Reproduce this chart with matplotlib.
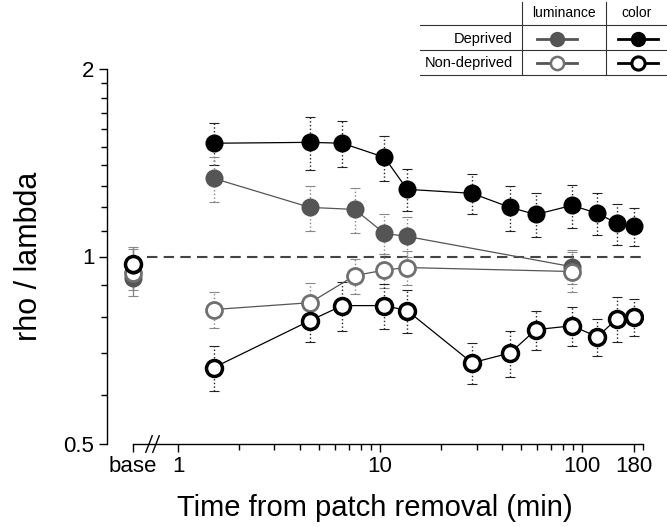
import matplotlib
matplotlib.use("Agg")
import matplotlib.pyplot as plt
from matplotlib.lines import Line2D
from matplotlib.ticker import FixedLocator, NullFormatter

plt.rcParams["font.family"] = ["Liberation Sans", "DejaVu Sans"]

# 資料
base_x = 0.6  # "base" 在 log 軸上的位置

color_t = [1.5, 4.5, 6.5, 10.5, 13.6, 28.5, 44, 59, 89, 119, 149, 181]
color_dep = [1.52, 1.525, 1.52, 1.443, 1.282, 1.263, 1.199, 1.168, 1.208, 1.173, 1.130, 1.118]
color_dep_err = [0.12, 0.15, 0.13, 0.12, 0.10, 0.095, 0.10, 0.095, 0.095, 0.09, 0.085, 0.08]
color_nondep = [0.663, 0.789, 0.834, 0.834, 0.819, 0.675, 0.700, 0.763, 0.774, 0.743, 0.795, 0.801]
color_nondep_err = [0.055, 0.06, 0.075, 0.07, 0.065, 0.05, 0.06, 0.055, 0.055, 0.05, 0.065, 0.055]

lum_t = [1.5, 4.5, 7.5, 10.5, 13.6, 89]
lum_dep = [1.335, 1.199, 1.19, 1.089, 1.077, 0.963]
lum_dep_err = [0.11, 0.10, 0.10, 0.08, 0.08, 0.06]
lum_nondep = [0.822, 0.843, 0.932, 0.951, 0.960, 0.946]
lum_nondep_err = [0.055, 0.065, 0.06, 0.06, 0.06, 0.07]

# base 值: color_dep, color_nondep, lum_dep, lum_nondep
base_vals = [0.97, 0.974, 0.925, 0.942]
base_errs = [0.06, 0.06, 0.06, 0.06]

x_ticks = [base_x, 1, 10, 100, 180]
x_labels = ["base", "1", "10", "100", "180"]

W, H = 667, 527
fig = plt.figure(figsize=(W / 100, H / 100), dpi=100)
ax = fig.add_axes([107 / W, 1 - 444 / H, (643 - 107) / W, (444 - 69) / H])
ax.set_xscale("log")
ax.set_yscale("log")
ax.set_xlim(0.445, 200)
ax.set_ylim(0.5, 2.0)

grey = "#555555"
grey_open = "#707070"

styles = [
    # t, y, err, face, edge, line color, mew, err color
    (color_t, color_dep, color_dep_err, "black", "black", "black", 1.5, "#222222"),
    (lum_t, lum_dep, lum_dep_err, grey, grey, grey, 1.5, "#888888"),
    (lum_t, lum_nondep, lum_nondep_err, "white", grey_open, grey, 2.0, "#888888"),
    (color_t, color_nondep, color_nondep_err, "white", "black", "black", 2.5, "#222222"),
]

# 虛線 y=1
ax.plot([0.7, 200], [1, 1], linestyle=(0, (5, 3)), color="#444444", lw=1.5, zorder=1)

for t, y, e, fc, ec, lc, mew, errc in styles:
    eb = ax.errorbar(t, y, yerr=e, fmt="none", ecolor=errc, elinewidth=1.0,
                     capsize=3.5, capthick=0.8, zorder=2)
    eb[2][0].set_linestyle(":")
    ax.plot(t, y, "-", color=lc, lw=0.9, zorder=3)
    ax.plot(t, y, "o", ms=11.5, mfc=fc, mec=ec, mew=mew, zorder=4)

# base 點
base_order = [(2, grey, grey, 1.5), (3, "white", grey_open, 2.0),
              (0, "black", "black", 1.5), (1, "white", "black", 2.5)]
for i, fc, ec, mew in base_order:
    eb = ax.errorbar([base_x], [base_vals[i]], yerr=[base_errs[i]], fmt="none",
                     ecolor="#888888", elinewidth=1.0, capsize=3.5, capthick=0.8, zorder=2)
    ax.plot([base_x], [base_vals[i]], "o", ms=11.5, mfc=fc, mec=ec, mew=mew, zorder=4)

# 軸
for s in ["top", "right"]:
    ax.spines[s].set_visible(False)
ax.spines["left"].set_bounds(0.5, 2.0)
ax.spines["bottom"].set_bounds(base_x, 200)
ax.spines["left"].set_linewidth(1.0)
ax.spines["bottom"].set_linewidth(1.0)

ax.xaxis.set_major_locator(FixedLocator(x_ticks))
ax.set_xticklabels(x_labels)
x_minor = [2, 3, 4, 5, 6, 7, 8, 9, 20, 30, 40, 50, 60, 70, 80, 90, 200]
ax.xaxis.set_minor_locator(FixedLocator(x_minor))
ax.xaxis.set_minor_formatter(NullFormatter())

ax.yaxis.set_major_locator(FixedLocator([0.5, 1, 2]))
ax.set_yticklabels(["0.5", "1", "2"])
y_minor = [0.6, 0.7, 0.8, 0.9, 1.1, 1.2, 1.3, 1.4, 1.5, 1.6, 1.7, 1.8, 1.9]
ax.yaxis.set_minor_locator(FixedLocator(y_minor))
ax.yaxis.set_minor_formatter(NullFormatter())

ax.tick_params(axis="both", which="major", direction="out", length=6, width=1,
               labelsize=16, pad=3)
ax.tick_params(axis="both", which="minor", direction="out", length=4, width=1)

ax.set_xlabel("Time from patch removal (min)", fontsize=21, labelpad=12)
ax.set_ylabel("rho / lambda", fontsize=22, labelpad=14)

# 軸斷點 //
for xf in [(149 - 107) / 536, (156 - 107) / 536]:
    ax.add_line(Line2D([xf - 0.006, xf + 0.006], [-0.022, 0.022], transform=ax.transAxes,
                       color="black", lw=1.0, clip_on=False))

# 右上角圖例表格 (像素座標)
def fx(px):
    return px / W

def fy(py):
    return 1 - py / H

for py in [25, 50, 75]:
    fig.add_artist(Line2D([fx(420), fx(667)], [fy(py), fy(py)], color="#333333", lw=0.8))
for px in [522, 606]:
    fig.add_artist(Line2D([fx(px), fx(px)], [fy(2), fy(75)], color="#333333", lw=0.8))

fig.text(fx(564), fy(13), "luminance", ha="center", va="center", fontsize=10)
fig.text(fx(637), fy(13), "color", ha="center", va="center", fontsize=10)
fig.text(fx(513), fy(39), "Deprived", ha="right", va="center", fontsize=10.5)
fig.text(fx(513), fy(63), "Non-deprived", ha="right", va="center", fontsize=10.5)

legend_rows = [
    (39, 557, grey, grey, grey, 1.5),
    (39, 638, "black", "black", "black", 1.5),
    (63, 557, "white", grey_open, grey, 1.8),
    (63, 638, "white", "black", "black", 2.2),
]
for py, px, fc, ec, lc, mew in legend_rows:
    fig.add_artist(Line2D([fx(px - 20), fx(px + 20)], [fy(py), fy(py)], color=lc, lw=2.0))
    fig.add_artist(Line2D([fx(px)], [fy(py)], marker="o", ms=9.5, mfc=fc, mec=ec, mew=mew,
                          linestyle="none"))

plt.savefig("out.png", dpi=100)
